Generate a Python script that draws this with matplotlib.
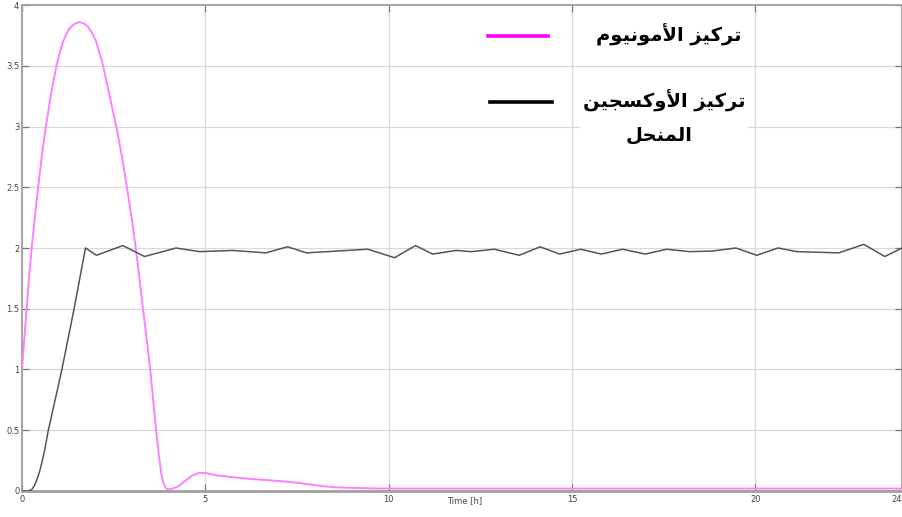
# -*- coding: utf-8 -*-
import matplotlib
matplotlib.use('Agg')
import matplotlib.pyplot as plt
from matplotlib.lines import Line2D
from matplotlib.patches import Rectangle

# ammonium concentration (pink)
t_nh4 = [0, 0.07, 0.13, 0.2, 0.29, 0.37, 0.44, 0.54, 0.65, 0.81, 0.94, 1.03,
         1.12, 1.21, 1.30, 1.43, 1.56, 1.68, 1.80, 1.91, 2.01, 2.11, 2.21,
         2.39, 2.57, 2.72, 2.86, 3.0, 3.10, 3.20, 3.30, 3.40, 3.50, 3.58,
         3.66, 3.73, 3.80, 3.86, 3.93, 4.02, 4.11, 4.24, 4.38, 4.52, 4.66,
         4.84, 5.0, 5.29, 5.7, 6.2, 6.65, 7.1, 7.5, 7.83, 8.2, 8.55, 9.0,
         9.37, 9.8, 12, 16, 20, 24]
nh4 = [1.0, 1.28, 1.52, 1.79, 2.08, 2.31, 2.5, 2.76, 3.0, 3.30, 3.5, 3.61,
       3.70, 3.76, 3.81, 3.845, 3.86, 3.85, 3.82, 3.77, 3.71, 3.61, 3.5,
       3.25, 3.0, 2.76, 2.5, 2.23, 2.0, 1.76, 1.5, 1.25, 0.99, 0.74,
       0.49, 0.3, 0.14, 0.06, 0.02, 0.015, 0.02, 0.035, 0.065, 0.1, 0.13,
       0.15, 0.148, 0.13, 0.115, 0.10, 0.09, 0.08, 0.068, 0.054, 0.04, 0.03, 0.026,
       0.023, 0.02, 0.02, 0.02, 0.02, 0.02]

# dissolved oxygen concentration (black)
t_do = [0, 0.15, 0.26, 0.33, 0.4, 0.47, 0.53, 0.62, 0.71, 1.08, 1.42, 1.73,
        2.03, 2.75, 3.34, 4.2, 4.84, 5.74, 6.65, 7.24, 7.76, 9.43, 10.16,
        10.73, 11.2, 11.84, 12.26, 12.88, 13.56, 14.13, 14.66, 15.24, 15.8,
        16.38, 17.0, 17.58, 18.2, 18.83, 19.47, 20.04, 20.62, 21.14, 22.28,
        22.96, 23.53, 24]
do = [0, 0.0, 0.01, 0.04, 0.09, 0.15, 0.22, 0.34, 0.49, 0.99, 1.5, 2.0,
      1.94, 2.02, 1.93, 2.0, 1.97, 1.98, 1.96, 2.01, 1.96, 1.99, 1.92,
      2.02, 1.95, 1.98, 1.97, 1.99, 1.94, 2.01, 1.95, 1.99, 1.95,
      1.99, 1.95, 1.99, 1.97, 1.975, 2.0, 1.94, 2.0, 1.97, 1.96,
      2.03, 1.93, 2.0]

x_ticks = [0, 5, 10, 15, 20, 24]
y_ticks = [0, 0.5, 1, 1.5, 2, 2.5, 3, 3.5, 4]
y_labels = ['0', '0.5', '1', '1.5', '2', '2.5', '3', '3.5', '4']

label_nh4 = 'تركيز الأمونيوم'
label_do_1 = 'تركيز الأوكسجين'
label_do_2 = 'المنحل'

# contextual forms (isolated, final, initial, medial) for the letters used
FORMS = {
    'ا': ('\uFE8D', '\uFE8E', None, None),
    'أ': ('\uFE83', '\uFE84', None, None),
    'ت': ('\uFE95', '\uFE96', '\uFE97', '\uFE98'),
    'ج': ('\uFE9D', '\uFE9E', '\uFE9F', '\uFEA0'),
    'ح': ('\uFEA1', '\uFEA2', '\uFEA3', '\uFEA4'),
    'ر': ('\uFEAD', '\uFEAE', None, None),
    'ز': ('\uFEAF', '\uFEB0', None, None),
    'س': ('\uFEB1', '\uFEB2', '\uFEB3', '\uFEB4'),
    'ك': ('\uFED9', '\uFEDA', '\uFEDB', '\uFEDC'),
    'ل': ('\uFEDD', '\uFEDE', '\uFEDF', '\uFEE0'),
    'م': ('\uFEE1', '\uFEE2', '\uFEE3', '\uFEE4'),
    'ن': ('\uFEE5', '\uFEE6', '\uFEE7', '\uFEE8'),
    'و': ('\uFEED', '\uFEEE', None, None),
    'ي': ('\uFEF1', '\uFEF2', '\uFEF3', '\uFEF4'),
    'لا': ('\uFEFB', '\uFEFC', None, None),
    'لأ': ('\uFEF7', '\uFEF8', None, None),
}


def shape(text):
    # matplotlib has no arabic shaping, so pick glyph forms by hand
    letters = []
    i = 0
    while i < len(text):
        if text[i:i + 2] in ('لا', 'لأ'):
            letters.append(text[i:i + 2])
            i += 2
        else:
            letters.append(text[i])
            i += 1
    out = []
    for k, ch in enumerate(letters):
        if ch not in FORMS:
            out.append(ch)
            continue
        prev = letters[k - 1] if k > 0 else None
        nxt = letters[k + 1] if k + 1 < len(letters) else None
        join_prev = prev in FORMS and FORMS[prev][2] is not None
        join_next = nxt in FORMS and FORMS[ch][2] is not None
        isol, fin, ini, med = FORMS[ch]
        if join_prev and join_next:
            out.append(med)
        elif join_prev:
            out.append(fin)
        elif join_next:
            out.append(ini)
        else:
            out.append(isol)
    return ''.join(reversed(out))


fig = plt.figure(figsize=(9.03, 5.17), dpi=100)
ax = fig.add_axes([0.0244, 0.0503, 0.9745, 0.940])

ax.plot(t_nh4, nh4, color='#ff80ff', lw=1.4, zorder=3)
ax.plot(t_do, do, color='#555555', lw=1.1, zorder=3)

ax.set_xlim(0, 24)
ax.set_ylim(0, 4)
ax.set_xticks(x_ticks)
ax.set_xticklabels([str(v) for v in x_ticks])
ax.set_yticks(y_ticks)
ax.set_yticklabels(y_labels)
ax.grid(True, color='#d9d9d9', lw=0.9)
ax.tick_params(direction='in', length=5, width=0.9, color='#777777',
               labelsize=6, labelcolor='#444444', top=True, right=True, pad=3)
ax.tick_params(axis='y', pad=2)
# last label sits on the right edge
ax.get_xticklabels()[-1].set_horizontalalignment('right')

for side in ['left', 'right', 'top']:
    ax.spines[side].set_color('#a0a0a0')
    ax.spines[side].set_linewidth(1.3)
ax.spines['bottom'].set_color('#a0a0a0')
ax.spines['bottom'].set_linewidth(2.0)

ax.text(0.503, -0.019, 'Time [h]', transform=ax.transAxes, ha='center',
        va='center', fontsize=6, color='#444444')

# hand placed legend
ax.add_patch(Rectangle((0.634, 0.6975), 0.191, 0.08, transform=ax.transAxes,
                       facecolor='white', edgecolor='none', zorder=4))
ax.add_line(Line2D([0.5295, 0.598], [0.936, 0.936], transform=ax.transAxes,
                   color='#ff00ff', lw=2.6, zorder=5))
ax.add_line(Line2D([0.532, 0.602], [0.800, 0.800], transform=ax.transAxes,
                   color='black', lw=2.6, zorder=5))
font = dict(family=['DejaVu Sans'], fontweight='bold', fontsize=14, zorder=6)
ax.text(0.818, 0.938, shape(label_nh4), transform=ax.transAxes, ha='right',
        va='center', **font)
ax.text(0.8216, 0.802, shape(label_do_1), transform=ax.transAxes, ha='right',
        va='center', **font)
ax.text(0.724, 0.7325, shape(label_do_2), transform=ax.transAxes, ha='center',
        va='center', **font)

fig.savefig('out.png', dpi=100)
